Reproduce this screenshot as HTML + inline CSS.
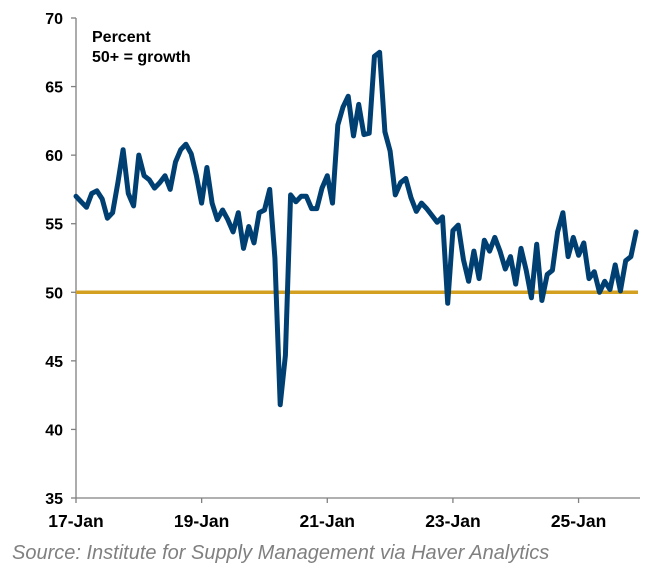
<!DOCTYPE html>
<html><head><meta charset="utf-8"><style>
body{margin:0;background:#fff;}
svg{display:block;font-family:"Liberation Sans",Arial,sans-serif;}
</style></head><body>
<svg id="chart" width="657" height="577">
<text x="92" y="42" font-size="16" font-weight="bold">Percent</text>
<text x="92" y="62" font-size="16" font-weight="bold">50+ = growth</text>
<g id="axes"></g>
<g id="plot"></g>
<text x="12" y="559" font-size="20" font-style="italic" fill="#808080">Source: Institute for Supply Management via Haver Analytics</text>
</svg>
<script>
const yTicks=[35,40,45,50,55,60,65,70];
const xTickLabels=["17-Jan","19-Jan","21-Jan","23-Jan","25-Jan"];
const xTickIndex=[0,24,48,72,96];
const threshold=50;
const pmiValues=[57.0,56.6,56.2,57.2,57.4,56.8,55.4,55.8,58.0,60.4,57.2,56.3,
60.0,58.5,58.2,57.6,58.0,58.5,57.5,59.5,60.4,60.8,60.1,58.5,
56.5,59.1,56.5,55.3,56.0,55.3,54.4,55.8,53.2,54.8,53.6,55.8,
56.0,57.5,52.5,41.8,45.4,57.1,56.6,57.0,57.0,56.1,56.1,57.6,
58.5,56.5,62.2,63.5,64.3,61.4,63.7,61.5,61.6,67.2,67.5,61.7,
60.3,57.1,58.0,58.3,56.9,55.9,56.5,56.1,55.6,55.1,55.5,49.2,
54.5,54.9,52.4,50.8,53.0,51.0,53.8,53.0,54.0,53.0,51.7,52.6,
50.6,53.2,51.6,49.6,53.5,49.4,51.3,51.6,54.4,55.8,52.6,54.0,
52.7,53.6,51.0,51.5,50.0,50.8,50.2,52.0,50.1,52.3,52.6,54.4];
const NS="http://www.w3.org/2000/svg";
const x0=76,xPer=5.235,yTop=18,yBot=498,yMin=35,yMax=70;
const X=i=>x0+i*xPer;
const Y=v=>yBot-(v-yMin)/(yMax-yMin)*(yBot-yTop);
function mk(tag,attrs,parent){const e=document.createElementNS(NS,tag);for(const k in attrs)e.setAttribute(k,attrs[k]);parent.appendChild(e);return e;}
const axes=document.getElementById('axes'),plot=document.getElementById('plot');
const ya=mk('line',{x1:x0,y1:yTop,x2:x0,y2:yBot,stroke:'#808080','stroke-width':1.3},axes);


const xa=mk('line',{x1:x0,y1:yBot,x2:640,y2:yBot,stroke:'#808080','stroke-width':1.3},axes);


yTicks.forEach(v=>{
 mk('line',{x1:x0-5,y1:Y(v),x2:x0,y2:Y(v),stroke:'#808080','stroke-width':1.3},axes);
 const t=mk('text',{x:63,y:Y(v)+6,'font-size':16,'font-weight':'bold','text-anchor':'end'},axes);
 t.textContent=v;
 
 
});
xTickIndex.forEach((idx,k)=>{
 mk('line',{x1:X(idx),y1:yBot,x2:X(idx),y2:yBot+5,stroke:'#808080','stroke-width':1.3},axes);
 const t=mk('text',{x:X(idx),y:527,'font-size':17.5,'font-weight':'bold','text-anchor':'middle'},axes);
 t.textContent=xTickLabels[k];
 
 
});
const th=mk('line',{x1:x0,y1:Y(threshold),x2:638,y2:Y(threshold),stroke:'#D4A020','stroke-width':3.5},plot);


const pts=pmiValues.map((v,i)=>X(i).toFixed(1)+','+Y(v).toFixed(1)).join(' ');
const pl=mk('polyline',{points:pts,fill:'none',stroke:'#003F72','stroke-width':5,'stroke-linejoin':'round','stroke-linecap':'round'},plot);


</script>
</body></html>
